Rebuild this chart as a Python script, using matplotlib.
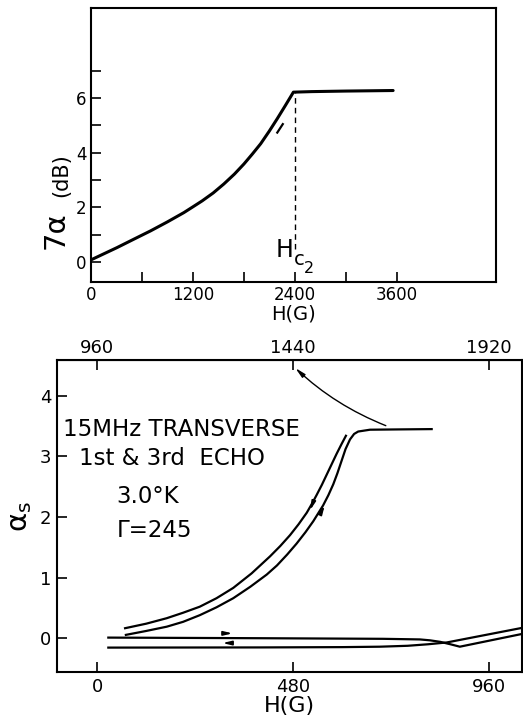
import numpy as np
import matplotlib.pyplot as plt
from matplotlib.ticker import FixedLocator

plt.rcParams['font.family'] = ['DejaVu Sans']

# upper panel: attenuation vs field, H(G) in gauss, 7*alpha in dB
h_top = [0, 150, 307, 500, 701, 900, 1094, 1200, 1310, 1440, 1566, 1690, 1802, 1900,
         1999, 2100, 2195, 2290, 2385, 2600, 3000, 3560]
a_top = [0.08, 0.30, 0.53, 0.83, 1.14, 1.47, 1.81, 2.02, 2.24, 2.53, 2.86, 3.22, 3.59, 3.95,
         4.33, 4.79, 5.25, 5.73, 6.22, 6.24, 6.26, 6.28]
hc2 = 2400
hc2_low = 0.49

# lower panel: hysteresis loop, 15 MHz transverse
h_down = [68, 120, 170, 210, 251, 292, 333, 378, 423, 448, 472, 493, 513, 525, 537,
          550, 562, 574, 586, 598, 609]
a_down = [0.165, 0.24, 0.33, 0.42, 0.52, 0.66, 0.83, 1.07, 1.35, 1.52, 1.70, 1.88, 2.07,
          2.21, 2.36, 2.53, 2.70, 2.87, 3.04, 3.20, 3.34]
h_up = [70, 120, 170, 210, 251, 292, 333, 375, 415, 440, 465, 488, 510, 529, 553, 566,
        578, 588, 598, 608, 619, 629, 639, 668, 740, 819]
a_up = [0.055, 0.12, 0.19, 0.27, 0.38, 0.51, 0.66, 0.85, 1.05, 1.20, 1.38, 1.56, 1.75,
        1.93, 2.19, 2.36, 2.54, 2.72, 2.92, 3.12, 3.28, 3.37, 3.41, 3.44, 3.445, 3.45]

h_base1 = [27, 400, 700, 790, 815, 840, 865, 888, 1040]
a_base1 = [0.01, 0.0, -0.01, -0.02, -0.035, -0.06, -0.10, -0.14, 0.07]
h_base2 = [27, 400, 600, 692, 760, 810, 856, 1040]
a_base2 = [-0.155, -0.152, -0.147, -0.14, -0.125, -0.10, -0.07, 0.17]

fig = plt.figure(figsize=(5.23, 7.17), dpi=100)

# ---- top panel ----
ax1 = fig.add_axes([0.174, 0.6067, 0.774, 0.3821])
ax1.plot(h_top, a_top, color='black', lw=2.2, solid_capstyle='round', solid_joinstyle='round')
ax1.plot([hc2, hc2], [hc2_low, 6.2], color='black', lw=1.0, ls=(0, (4, 3)))
ax1.plot([2195, 2260], [4.74, 5.05], color='black', lw=1.6)

# H_c2 lettering, subscript pieces placed separately
ax1.text(2180, 0.17, 'H', fontsize=17, ha='left', va='baseline')
ax1.text(2385, -0.12, 'c', fontsize=14, ha='left', va='baseline')
ax1.text(2510, -0.41, '2', fontsize=11.5, ha='left', va='baseline')

ax1.set_xlim(0, 4770)
ax1.set_ylim(-0.73, 9.3)
ax1.xaxis.set_major_locator(FixedLocator([0, 1200, 2400, 3600]))
ax1.xaxis.set_minor_locator(FixedLocator([600, 1800, 3000]))
ax1.yaxis.set_major_locator(FixedLocator([0, 2, 4, 6]))
ax1.yaxis.set_minor_locator(FixedLocator([1, 3, 5, 7]))
ax1.tick_params(which='both', direction='in', length=7, width=1.2, labelsize=12, pad=3)
for s in ax1.spines.values():
    s.set_linewidth(1.5)
ax1.set_xlabel('H(G)', fontsize=14, labelpad=0.5)

fig.text(0.107, 0.679, '7α', rotation=90, fontsize=21, ha='center', va='center')
fig.text(0.118, 0.756, '(dB)', rotation=90, fontsize=15, ha='center', va='center')

# ---- bottom panel ----
ax2 = fig.add_axes([0.109, 0.0628, 0.8885, 0.4351])
lw = 1.6
for hx, ay in [(h_down, a_down), (h_up, a_up), (h_base1, a_base1), (h_base2, a_base2)]:
    ax2.plot(hx, ay, color='black', lw=lw, solid_joinstyle='round')

arrow = dict(arrowstyle='-|>,head_length=0.5,head_width=0.12', color='black', lw=1.2)
ax2.annotate('', xy=(338, 0.08), xytext=(300, 0.08), arrowprops=arrow)
ax2.annotate('', xy=(300, -0.08), xytext=(338, -0.08), arrowprops=arrow)
ax2.annotate('', xy=(519, 2.07), xytext=(529, 2.25), arrowprops=arrow)
ax2.annotate('', xy=(560, 2.23), xytext=(547, 2.06), arrowprops=arrow)
ax2.annotate('', xy=(480, 4.49), xytext=(713, 3.49),
             arrowprops=dict(arrowstyle='-|>,head_length=0.6,head_width=0.13', color='black',
                             lw=1.0, connectionstyle='arc3,rad=-0.1'))

ax2.text(-83, 3.45, '15MHz TRANSVERSE', fontsize=16.5, ha='left', va='center')
ax2.text(-46, 2.97, '1st & 3rd  ECHO', fontsize=16.5, ha='left', va='center')
ax2.text(47, 2.33, '3.0°K', fontsize=16.5, ha='left', va='center')
ax2.text(47, 1.78, 'Γ=245', fontsize=16.5, ha='left', va='center')

ax2.set_xlim(-98.7, 1039.5)
ax2.set_ylim(-0.557, 4.59)
ax2.set_xticks([0, 480, 960])
ax2.set_yticks([0, 1, 2, 3, 4])
ax2.tick_params(direction='in', length=7, width=1.2, labelsize=13, pad=4)
for s in ax2.spines.values():
    s.set_linewidth(1.5)
ax2.set_xlabel('H(G)', fontsize=16, labelpad=0)
ax2.set_ylabel(r'$\mathregular{\alpha_s}$', fontsize=21, labelpad=4)

top = ax2.secondary_xaxis('top', functions=(lambda x: x + 960, lambda x: x - 960))
top.set_xticks([960, 1440, 1920])
top.tick_params(direction='in', length=7, width=1.2, labelsize=13, pad=2)

fig.savefig('out.png', dpi=100)
